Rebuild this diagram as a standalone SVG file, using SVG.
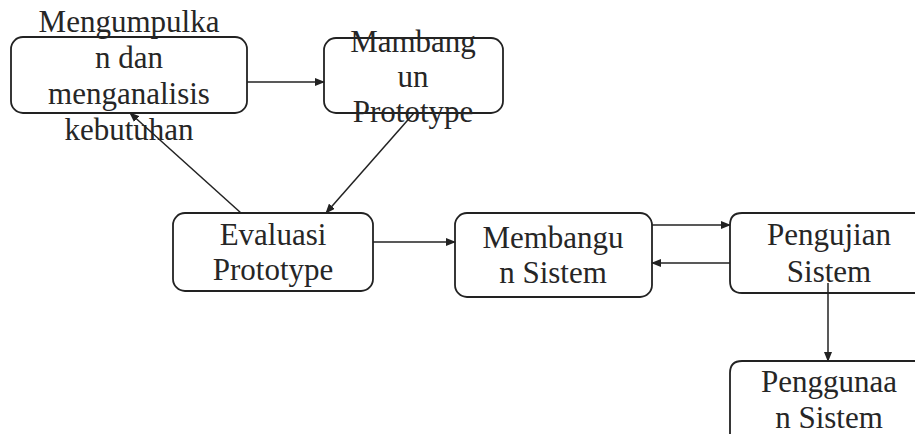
<svg xmlns="http://www.w3.org/2000/svg" width="915" height="434" viewBox="0 0 915 434">
<defs>
<style>
.box{fill:#fff;stroke:#222;stroke-width:1.8}
.t{font-family:"Liberation Serif","Times New Roman",serif;font-size:31px;fill:#262626;text-anchor:middle}
.c{stroke:#222;stroke-width:1.5;fill:none}
</style>
<marker id="ah" markerWidth="10" markerHeight="8" refX="9" refY="4" orient="auto" markerUnits="userSpaceOnUse">
<path d="M0,0 L10,4 L0,8 Z" fill="#222"/>
</marker>
</defs>
<rect width="915" height="434" fill="#fff"/>
<g id="n1">
<rect class="box" x="11" y="37" width="236" height="76" rx="12"/>
<text class="t" x="129" y="32">Mengumpulka</text>
<text class="t" x="129" y="68">n dan</text>
<text class="t" x="129" y="104">menganalisis</text>
<text class="t" x="129" y="140">kebutuhan</text>
</g>
<g id="n2">
<rect class="box" x="324" y="38" width="179" height="75" rx="12"/>
<text class="t" x="413" y="52">Mambang</text>
<text class="t" x="413" y="87">un</text>
<text class="t" x="413" y="122">Prototype</text>
</g>
<g id="n3">
<rect class="box" x="173" y="213" width="200" height="78" rx="12"/>
<text class="t" x="273" y="245">Evaluasi</text>
<text class="t" x="273" y="280">Prototype</text>
</g>
<g id="n4">
<rect class="box" x="455" y="213" width="197" height="84" rx="12"/>
<text class="t" x="553" y="248">Membangu</text>
<text class="t" x="553" y="283">n Sistem</text>
</g>
<g id="n5">
<path class="box" d="M920,213 L742,213 Q730,213 730,225 L730,281 Q730,293 742,293 L920,293"/>
<text class="t" x="829" y="245">Pengujian</text>
<text class="t" x="829" y="282">Sistem</text>
</g>
<g id="n6">
<path class="box" d="M920,361 L742,361 Q730,361 730,373 L730,440"/>
<text class="t" x="829" y="392">Penggunaa</text>
<text class="t" x="829" y="428">n Sistem</text>
</g>
<g id="connectors">
<line class="c" x1="247" y1="82" x2="324" y2="82" marker-end="url(#ah)"/>
<line class="c" x1="414" y1="113" x2="326" y2="213" marker-end="url(#ah)"/>
<line class="c" x1="241" y1="213" x2="130" y2="113" marker-end="url(#ah)"/>
<line class="c" x1="373" y1="242" x2="455" y2="242" marker-end="url(#ah)"/>
<line class="c" x1="652" y1="225" x2="730" y2="225" marker-end="url(#ah)"/>
<line class="c" x1="730" y1="263" x2="652" y2="263" marker-end="url(#ah)"/>
<line class="c" x1="828" y1="283" x2="828" y2="361" marker-end="url(#ah)"/>
</g>
</svg>
